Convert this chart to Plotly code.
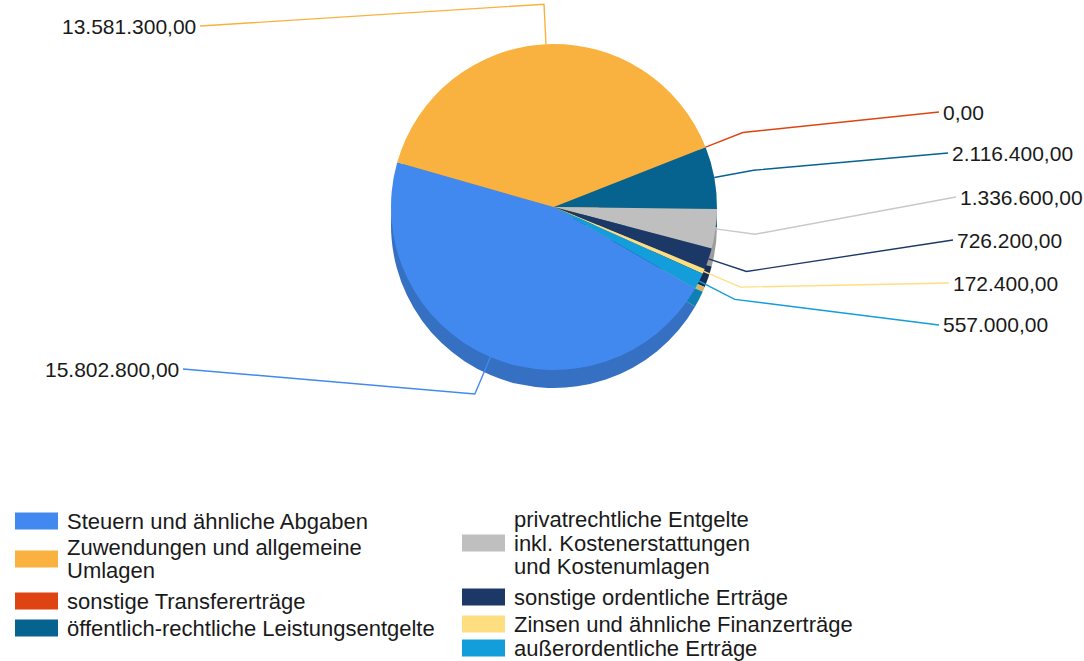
import numpy as np
import plotly.graph_objects as go

# ---------------- data ----------------
categories = [
    "Steuern und ähnliche Abgaben",
    "Zuwendungen und allgemeine Umlagen",
    "sonstige Transfererträge",
    "öffentlich-rechtliche Leistungsentgelte",
    "privatrechtliche Entgelte inkl. Kostenerstattungen und Kostenumlagen",
    "sonstige ordentliche Erträge",
    "Zinsen und ähnliche Finanzerträge",
    "außerordentliche Erträge",
]
values = [15802800.00, 13581300.00, 0.00, 2116400.00, 1336600.00, 726200.00, 172400.00, 557000.00]
colors = ["#4189EE", "#F9B23F", "#DE4411", "#06638F", "#BFBFBF", "#1B3867", "#FFDE82", "#139DDB"]
legend_lines = [
    ["Steuern und ähnliche Abgaben"],
    ["Zuwendungen und allgemeine", "Umlagen"],
    ["sonstige Transfererträge"],
    ["öffentlich-rechtliche Leistungsentgelte"],
    ["privatrechtliche Entgelte", "inkl. Kostenerstattungen", "und Kostenumlagen"],
    ["sonstige ordentliche Erträge"],
    ["Zinsen und ähnliche Finanzerträge"],
    ["außerordentliche Erträge"],
]

# ---------------- layout constants ----------------
W, H = 1084, 661
CX, CY, R = 554, 207, 163
DEPTH = 18
ROTATION = 120
FONT = "Liberation Sans, Arial, sans-serif"
FS = 21
FS_LEG = 22

def px(x):
    return x / W

def py(y):
    return 1 - y / H

def fmt_de(v):
    s = f"{v:,.2f}"
    return s.replace(",", "X").replace(".", ",").replace("X", ".")

def darker(hexc, f=0.82):
    h = hexc.lstrip("#")
    r, g, b = (int(h[i:i + 2], 16) for i in (0, 2, 4))
    return "#%02X%02X%02X" % (int(r * f), int(g * f), int(b * f))

fig = go.Figure()

# side (depth) layer
fig.add_trace(go.Pie(
    labels=categories, values=values, sort=False, direction="clockwise",
    rotation=ROTATION, textinfo="none", hoverinfo="skip", showlegend=False,
    marker=dict(colors=[darker(c) for c in colors], line=dict(width=0)),
    domain=dict(x=[px(CX - R), px(CX + R)], y=[py(CY + DEPTH + R), py(CY + DEPTH - R)]),
))
# top layer
fig.add_trace(go.Pie(
    labels=categories, values=values, sort=False, direction="clockwise",
    rotation=ROTATION, textinfo="none", showlegend=False,
    marker=dict(colors=colors, line=dict(width=0)),
    domain=dict(x=[px(CX - R), px(CX + R)], y=[py(CY + R), py(CY - R)]),
    hovertemplate="%{label}<br>%{value:,.2f}<extra></extra>",
))

# ---------------- value labels with leader lines ----------------
label_pos = [
    (183, 369, "right"),
    (200, 26, "right"),
    (939, 112, "left"),
    (948, 153, "left"),
    (956, 197, "left"),
    (953, 240, "left"),
    (949, 283, "left"),
    (939, 325, "left"),
]
total = float(np.sum(values))
cum = np.cumsum([0.0] + list(values))
shapes = []
annotations = []
for i, v in enumerate(values):
    mid_frac = (cum[i] + cum[i + 1]) / 2 / total
    ang = np.deg2rad(ROTATION + 360 * mid_frac)
    sx, sy = np.sin(ang), -np.cos(ang)
    ex, ey = CX + R * sx, CY + R * sy
    bx, by = CX + (R + 40) * sx, CY + (R + 40) * sy
    lx, ly, side = label_pos[i]
    lc = "#C8C8C8" if colors[i] == "#BFBFBF" else colors[i]
    path = f"M {px(ex)} {py(ey)} L {px(bx)} {py(by)} L {px(lx)} {py(ly)}"
    shapes.append(dict(type="path", path=path, xref="paper", yref="paper",
                       line=dict(color=lc, width=1.4)))
    annotations.append(dict(
        x=px(lx + (2 if side == "left" else -2)), y=py(ly), xref="paper", yref="paper",
        text=fmt_de(v), showarrow=False, xanchor=side, yanchor="middle",
        font=dict(family=FONT, size=FS, color="#1A1A1A"),
    ))

# ---------------- legend (two columns) ----------------
col_x = [15, 462]
col_rows = [[521, 559, 601, 628], [543, 597, 624, 648]]
LINE_GAP = 23.5
for i, lines in enumerate(legend_lines):
    col = 0 if i < 4 else 1
    yc = col_rows[col][i % 4]
    x0 = col_x[col]
    shapes.append(dict(type="rect", xref="paper", yref="paper",
                       x0=px(x0), x1=px(x0 + 43), y0=py(yc + 8.5), y1=py(yc - 8.5),
                       fillcolor=colors[i], line=dict(width=0)))
    n = len(lines)
    for k, t in enumerate(lines):
        ty = yc + (k - (n - 1) / 2) * LINE_GAP
        annotations.append(dict(
            x=px(x0 + 50), y=py(ty), xref="paper", yref="paper", text=t,
            showarrow=False, xanchor="left", yanchor="middle",
            font=dict(family=FONT, size=FS_LEG, color="#1A1A1A"),
        ))

fig.update_layout(
    width=W, height=H, autosize=False,
    margin=dict(l=0, r=0, t=0, b=0),
    paper_bgcolor="white", plot_bgcolor="white",
    showlegend=False,
    shapes=shapes, annotations=annotations,
)

fig.write_html("out.html", config={"displayModeBar": False},
               post_script="document.body.style.margin='0';document.body.style.overflow='hidden';")
